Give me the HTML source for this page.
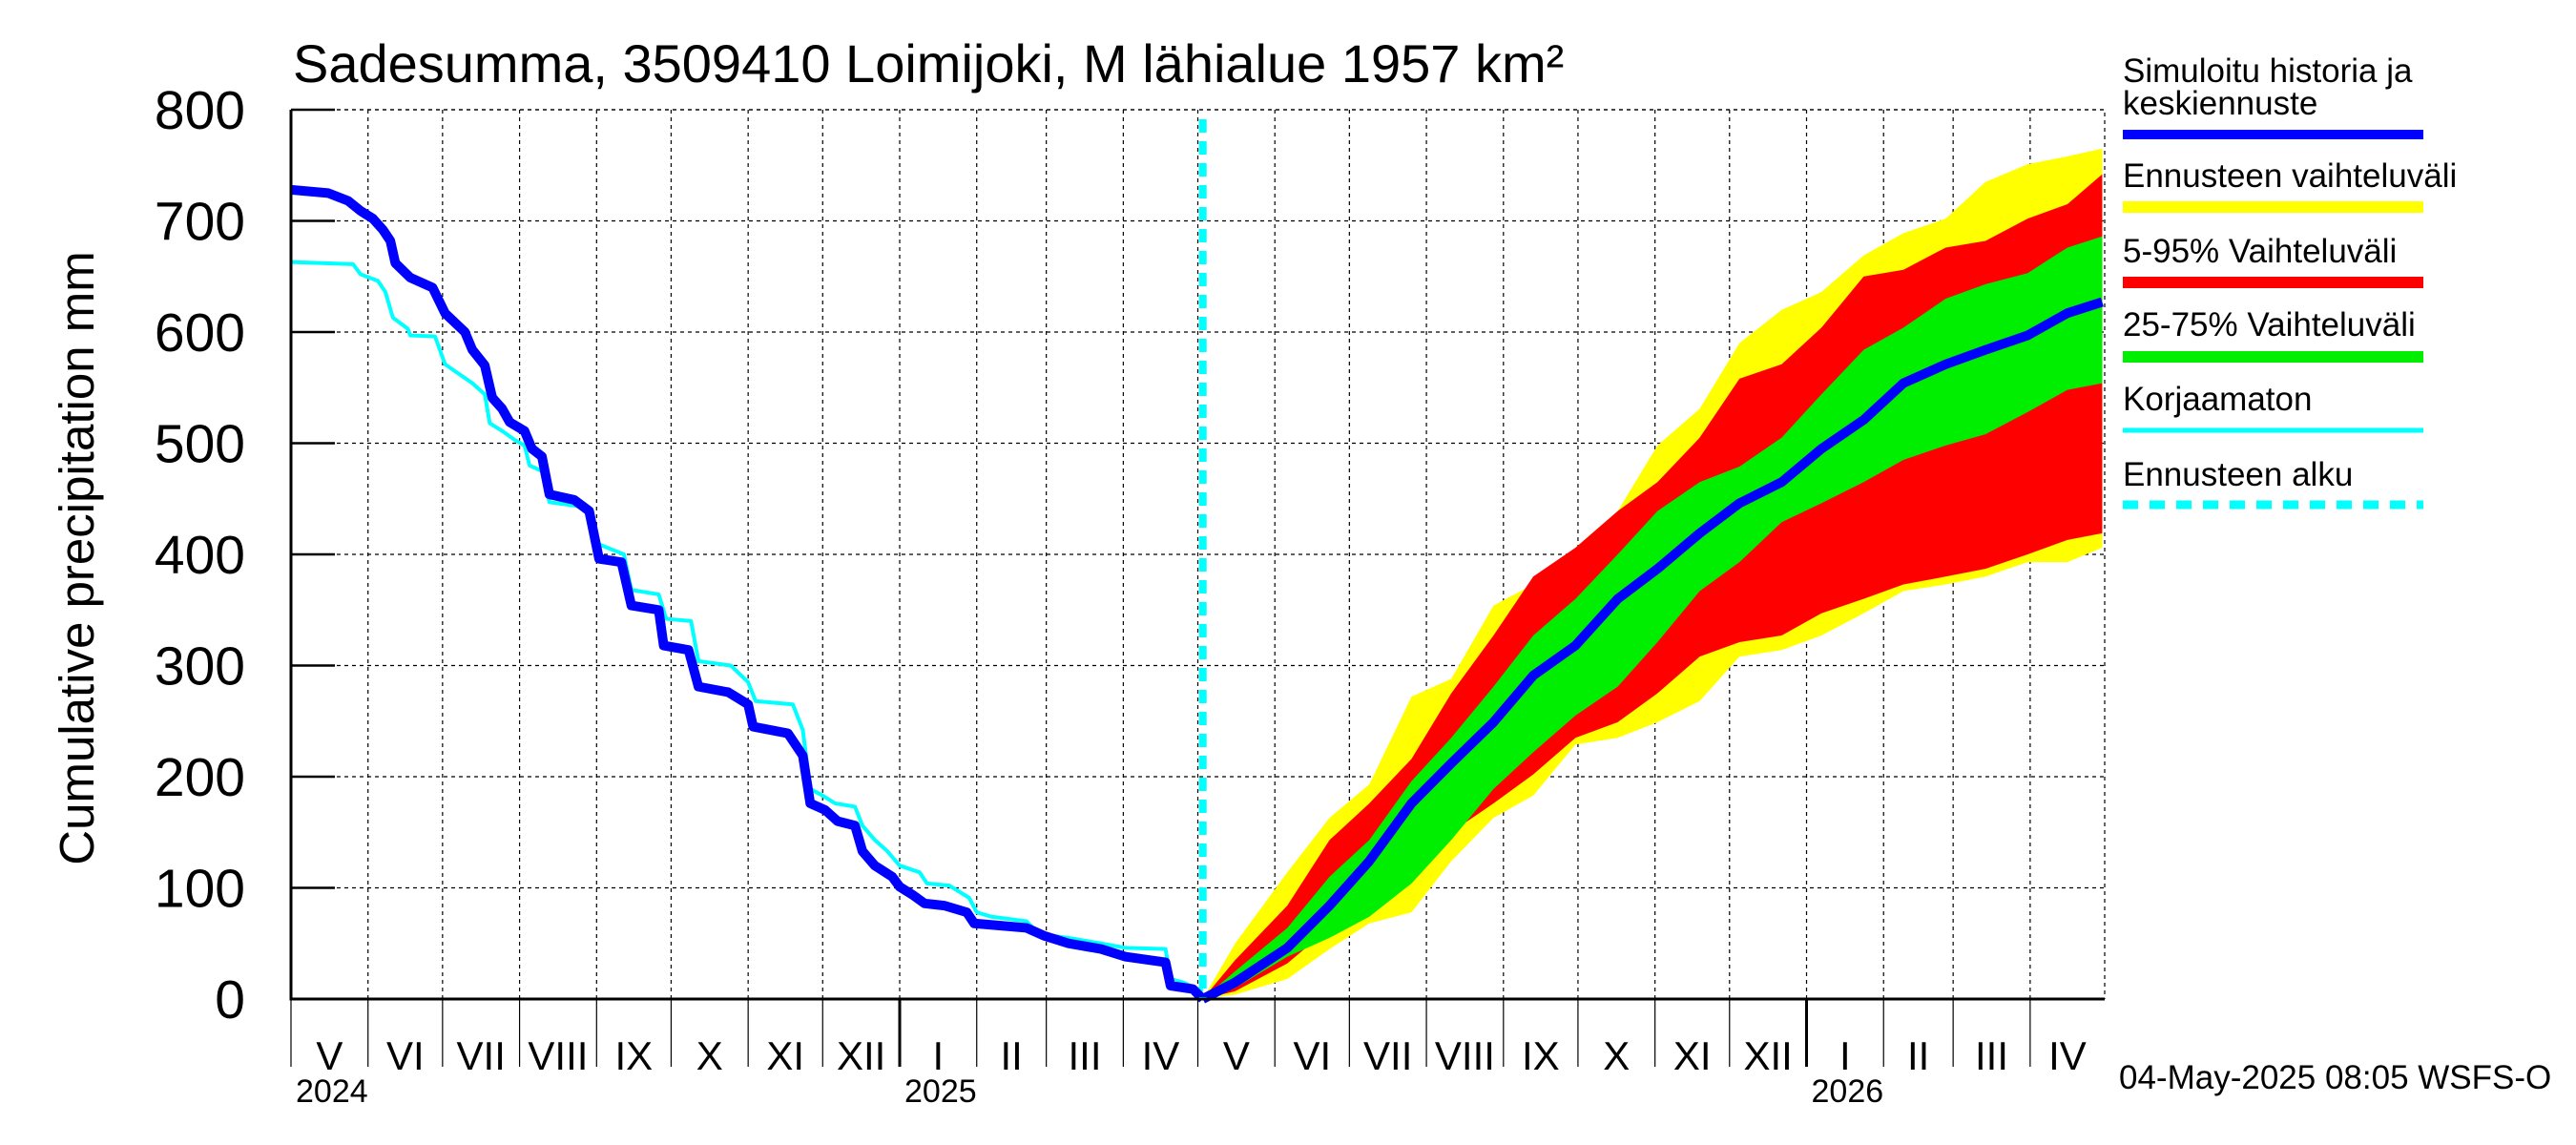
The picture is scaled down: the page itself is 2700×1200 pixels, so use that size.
<!DOCTYPE html>
<html><head><meta charset="utf-8"><style>
html,body{margin:0;padding:0;background:#fff}
svg{display:block;font-family:"Liberation Sans",sans-serif}
</style></head><body>
<svg id="chart" width="2700" height="1200" viewBox="0 0 2700 1200">
<g id="grid"></g>
<g id="bands"></g>
<g id="lines"></g>
<g id="axes"></g>
<text x="307" y="86" font-size="56">Sadesumma, 3509410 Loimijoki, M lähialue 1957 km²</text>
<text transform="translate(98,585) rotate(-90)" text-anchor="middle" font-size="51">Cumulative precipitation    mm</text>
<g font-size="35">
<text x="2225" y="86">Simuloitu historia ja</text>
<text x="2225" y="120">keskiennuste</text>
<line x1="2225" y1="141" x2="2540" y2="141" stroke="#0000ff" stroke-width="10"/>
<text x="2225" y="196">Ennusteen vaihteluväli</text>
<line x1="2225" y1="217" x2="2540" y2="217" stroke="#ffff00" stroke-width="12"/>
<text x="2225" y="275">5-95% Vaihteluväli</text>
<line x1="2225" y1="296" x2="2540" y2="296" stroke="#ff0000" stroke-width="12"/>
<text x="2225" y="352">25-75% Vaihteluväli</text>
<line x1="2225" y1="374" x2="2540" y2="374" stroke="#00ee00" stroke-width="12"/>
<text x="2225" y="430">Korjaamaton</text>
<line x1="2225" y1="451" x2="2540" y2="451" stroke="#00ffff" stroke-width="5"/>
<text x="2225" y="509">Ennusteen alku</text>
<line x1="2225" y1="529" x2="2540" y2="529" stroke="#00ffff" stroke-width="9" stroke-dasharray="16,12"/>
</g>
<text x="2221" y="1141" font-size="35">04-May-2025 08:05 WSFS-O</text>
</svg>
<script>
const histDays=[0,15,23,28,33,37,40,42,48,57,62,70,73,78,81,85,88,94,97,101,104,114,120,124,133,137,148,150,160,164,176,184,186,200,206,209,215,220,227,230,235,242,245,250,255,263,272,275,296,303,313,326,336,352,354,363,367];
const histVals=[728,725,718,709,702,692,682,662,649,640,617,600,584,570,541,531,519,511,495,488,454,449,439,396,393,354,350,318,314,281,276,265,245,239,219,176,170,160,156,133,120,110,101,94,86,84,78,68,64,57,50,45,38,33,12,9,0];
const rawDays=[0,25,28,35,38,41,47,48,58,62,73,78,80,85,90,94,96,101,104,120,124,134,137,148,151,161,164,177,184,187,202,206,209,214,219,227,230,235,240,245,253,256,265,273,276,282,296,300,306,313,326,336,352,354,359,367];
const rawVals=[663,661,652,646,636,613,603,597,596,571,554,544,518,511,503,498,480,475,447,442,409,400,368,364,342,340,304,300,285,268,265,242,189,183,176,173,156,143,133,120,114,104,102,91,78,74,70,61,57,55,50,46,45,18,15,7];
const fcDays=[367,380,401,418,434,451,467,484,500,517,534,550,567,583,600,616,633,649,666,682,699,715,729];
const median=[0,15,46,84,124,176,212,249,291,318,360,387,419,446,465,495,521,554,571,584,597,617,627];
const yellowHigh=[0,50,114,163,193,272,288,354,373,406,439,498,531,590,620,636,669,689,702,735,751,758,765];
const redHigh=[0,35,84,143,176,216,275,327,380,406,439,465,505,558,571,604,650,656,676,682,702,715,742];
const greenHigh=[0,25,64,110,143,196,235,281,327,360,400,439,465,479,505,544,584,604,630,643,653,676,686];
const greenLow=[0,10,38,55,74,104,143,189,222,255,281,321,367,393,429,446,465,485,498,508,528,548,554];
const redLow=[0,7,32,64,84,110,150,176,202,235,249,275,308,321,327,347,360,373,380,387,400,413,419];
const yellowLow=[0,4,18,45,68,78,124,163,183,229,235,249,268,308,314,327,347,367,373,380,393,393,406];
const yTicks=[0,100,200,300,400,500,600,700,800];
const monthLens=[31,30,31,31,30,31,30,31,31,28,31,30,31,30,31,31,30,31,30,31,31,28,31,30];
const monthNames=["V","VI","VII","VIII","IX","X","XI","XII","I","II","III","IV","V","VI","VII","VIII","IX","X","XI","XII","I","II","III","IV"];
const years=["2024","2025","2026"];
const forecastStartDay=367;

const X0=305,X1=2206,Y0=1047,Y1=115,TOTAL=730;
const xs=d=>X0+d*(X1-X0)/TOTAL;
const ys=v=>Y0-v*(Y0-Y1)/800;
const NS="http://www.w3.org/2000/svg";
function mk(tag,attrs,parent){const e=document.createElementNS(NS,tag);for(const k in attrs)e.setAttribute(k,attrs[k]);parent.appendChild(e);return e;}
const grid=document.getElementById('grid'),bands=document.getElementById('bands'),lines=document.getElementById('lines'),axes=document.getElementById('axes');

yTicks.forEach(v=>{
  if(v>0){const g=mk('line',{x1:X0,y1:ys(v),x2:X1,y2:ys(v),stroke:'#000','stroke-width':1.2,'stroke-dasharray':'4,4'},grid);
  
  }
  const t=mk('line',{x1:X0,y1:ys(v),x2:X0+46,y2:ys(v),stroke:'#000','stroke-width':2.5},axes);
  
  
  const l=mk('text',{x:257,y:ys(v)+20,'text-anchor':'end','font-size':57},axes);
  l.textContent=v;
  
  
});
let d=0,yi=0;
monthLens.forEach((len,i)=>{
  const x=xs(d),isYear=monthNames[i]==="I"||i===0;
  if(i>0){const g=mk('line',{x1:x,y1:Y1,x2:x,y2:Y0,stroke:'#000','stroke-width':1.2,'stroke-dasharray':'4,4'},grid);
  
  }
  const t=mk('line',{x1:x,y1:Y0,x2:x,y2:1118,stroke:'#000','stroke-width':isYear&&i>0?3:1.2},axes);
  
  
  const l=mk('text',{x:xs(d+len/2),y:1121,'text-anchor':'middle','font-size':42},axes);
  l.textContent=monthNames[i];
  
  
  if(isYear){const yl=mk('text',{x:x+5,y:1155,'font-size':34},axes);
  yl.textContent=years[yi++];
  
  }
  d+=len;
});
const tb=mk('path',{d:`M${X0} ${Y1}H${X1}V${Y0}`,fill:'none',stroke:'#000','stroke-width':1.2,'stroke-dasharray':'4,4'},grid);


const ax=mk('path',{d:`M${X0} ${Y1}V${Y0}H${X1}`,fill:'none',stroke:'#000','stroke-width':3},axes);



function band(hi,lo,color,name){
  let p='M'+fcDays.map((dd,i)=>xs(dd)+' '+ys(hi[i])).join('L');
  for(let i=fcDays.length-1;i>=0;i--)p+='L'+xs(fcDays[i])+' '+ys(lo[i]);
  const e=mk('path',{d:p+'Z',fill:color},bands);
  
  
}
band(yellowHigh,yellowLow,'#ffff00','band-full-range');
band(redHigh,redLow,'#ff0000','band-5-95');
band(greenHigh,greenLow,'#00ee00','band-25-75');
function line(days,vals,color,w,name){
  const e=mk('polyline',{points:days.map((dd,i)=>xs(dd)+','+ys(vals[i])).join(' '),fill:'none',stroke:color,'stroke-width':w,'stroke-linejoin':'round'},lines);
  
  
}
line(rawDays,rawVals,'#00ffff',4,'uncorrected-line');
line(histDays,histVals,'#0000ff',10,'simulated-history-line');
line(fcDays,median,'#0000ff',10,'median-forecast-line');
const fs=mk('line',{x1:xs(forecastStartDay),y1:Y1+10,x2:xs(forecastStartDay),y2:Y0,stroke:'#00ffff','stroke-width':8,'stroke-dasharray':'14,9'},lines);


</script>
</body></html>
